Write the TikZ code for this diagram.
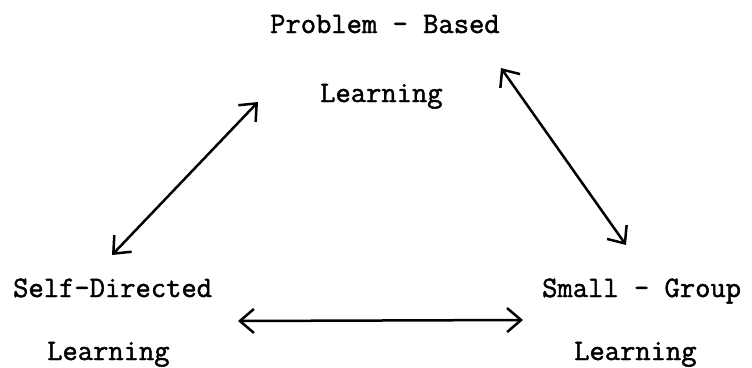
\documentclass[tikz,border=0pt]{standalone}
\usepackage{fontspec}
\newfontfamily\typewriter[FakeBold=1.5]{Latin Modern Mono}
\usetikzlibrary{arrows.meta}
\begin{document}
\begin{tikzpicture}[x=1pt, y=-1pt,
        label/.style={anchor=base west, inner sep=0pt, font=\fontsize{29.7}{32}\selectfont\typewriter},
        link/.style={{Straight Barb[length=14pt, width=24pt, line width=2.5pt]}-{Straight Barb[length=14pt, width=24pt, line width=2.5pt]}, line width=2.5pt}]
        \useasboundingbox (0, 0) rectangle (752, 367);

        \node[label] (pbl1) at (270, 33) {Problem - Based};
        \node[label] (pbl2) at (320, 102) {Learning};
        \node[label] (sdl1) at (13, 297) {Self-Directed};
        \node[label] (sdl2) at (47, 360) {Learning};
        \node[label] (sgl1) at (542, 297) {Small - Group};
        \node[label] (sgl2) at (574, 360) {Learning};

        \coordinate (pb-l) at (258, 102);
        \coordinate (pb-r) at (501, 68);
        \coordinate (sd-t) at (112, 255);
        \coordinate (sd-r) at (238, 321);
        \coordinate (sg-t) at (626, 245);
        \coordinate (sg-l) at (523, 320);

        \draw[link] (pb-l) -- (sd-t);
        \draw[link] (pb-r) -- (sg-t);
        \draw[link] (sd-r) -- (sg-l);
    \end{tikzpicture}
\end{document}
